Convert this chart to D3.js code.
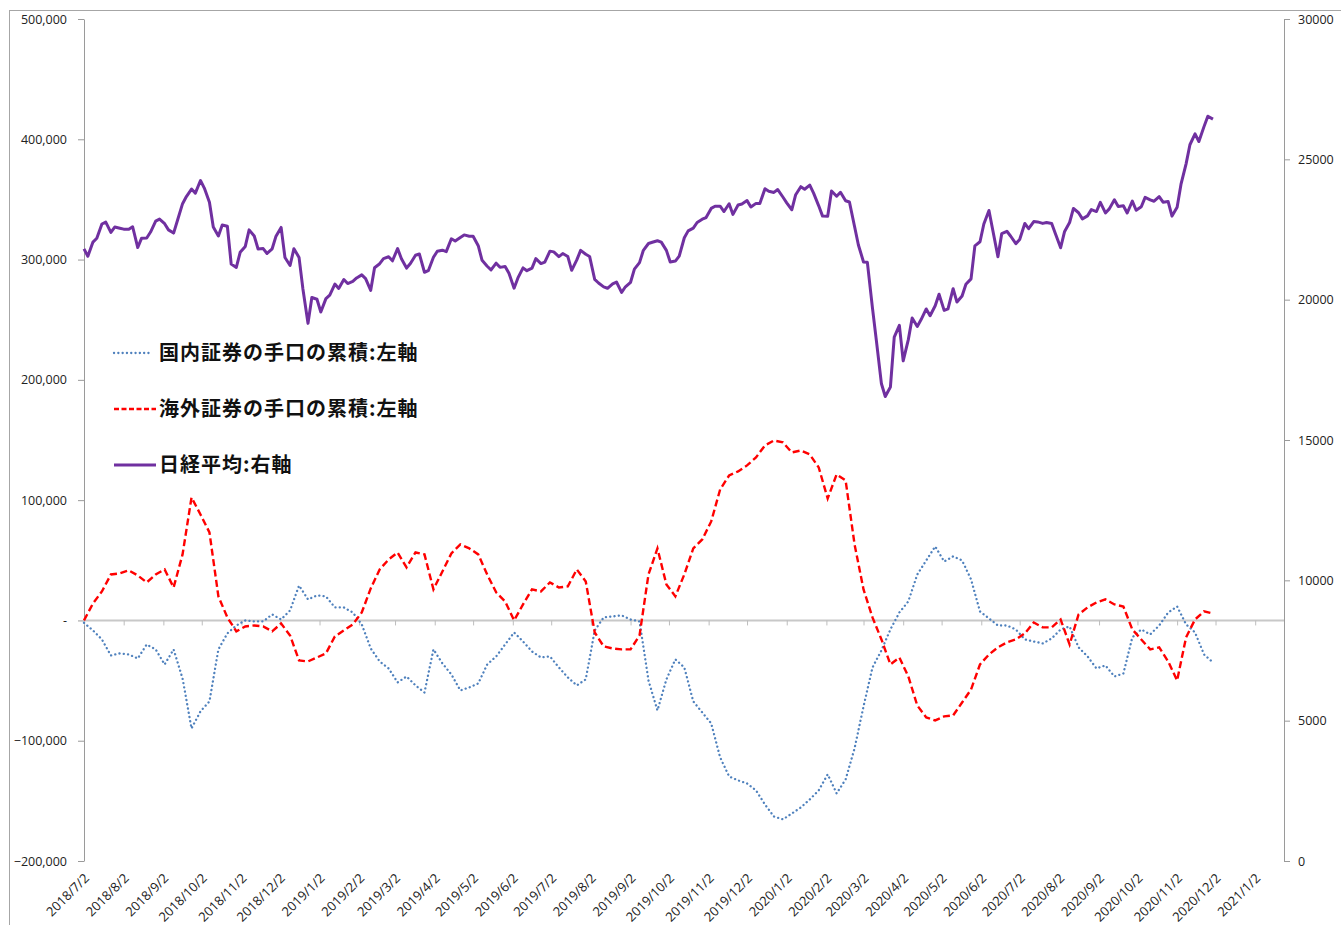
<!DOCTYPE html>
<html>
<head>
<meta charset="utf-8">
<script src="https://cdn.jsdelivr.net/npm/d3@7"></script>
<style>
body { margin: 0; background: #fff; }
svg { display: block; }
</style>
</head>
<body>
<svg id="chart" width="1341" height="925"></svg>
<script>
// 日経平均 (twice a week: Mon / Thu), 2018/7/2 - 2020/11/30
var nikkeiStart = new Date(2018, 6, 2);
var nikkei = [
  21811,21547, 22052,22187, 22697,22765, 22397,22586, 22544,22512,
  22507,22598, 21858,22192, 22199,22410, 22799,22869, 22707,22487,
  22373,22821, 23420,23674, 23940,23797, 24245,23975, 23469,22591,
  22271,22659, 22615,21268, 21149,21687, 21898,22487, 22270,21804,
  21821,21646, 21812,22262, 22574,21501, 21219,21816, 21506,20392,
  19155,20077, 20015,19561, 20038,20163, 20555,20402, 20719,20574,
  20649,20773, 20883,20751, 20333,21139, 21281,21464, 21528,21385,
  21822,21456, 21125,21287, 21584,21627, 20977,21033, 21509,21724,
  21762,21711, 22169,22091, 22218,22307, 22259,22259, 21923,21402,
  21191,21062, 21301,21151, 21183,20943, 20410,20774, 21134,21032,
  21124,21462, 21286,21338, 21729,21702, 21534,21643, 21535,21046,
  21416,21756, 21616,21540, 20720,20593, 20455,20406, 20563,20628,
  20261,20460, 20620,21086, 21318,21759, 22001,22044, 22098,22049,
  21756,21341, 21375,21551, 22207,22451, 22548,22750, 22867,22927,
  23251,23330, 23331,23141, 23416,23038, 23373,23409, 23529,23300,
  23430,23424, 23952,23864, 23821,23924, 23657,23450, 23204,23740,
  24025,23933, 24083,23795, 23343,22977, 22972,23873, 23686,23828,
  23523,23479, 22605,21948, 21344,21330, 19698,18560, 17002,16552,
  16887,18665, 19084,17819, 18576,19346, 19043,19290, 19669,19429,
  19783,20193, 19619,19674, 20390,19915, 20133,20552, 20741,21916,
  22062,22695, 23178,22473, 21530,22355, 22437,22259, 21995,22145,
  22714,22529, 22784,22770, 22717,22751, 22716,22339, 21850,22418,
  22750,23250, 23097,22880, 22985,23209, 23140,23465, 23089,23235,
  23559,23320, 23346,23087, 23511,23185, 23312,23647, 23558,23507,
  23671,23474, 23495,22977, 23295,24105, 24839,25520, 25906,25634,
  26165,26537, 26433
];

// 手口の累積 (weekly, Mondays from 2018/7/2)
var weeklyStart = new Date(2018, 6, 2);
var domestic = [
  -2000, -8300, -15800, -29100, -27400, -28300, -31600, -20000, -24100, -36600,
  -24100, -48200, -89800, -75600, -67300, -24100, -10800, -4200, 0, -800,
  -800, 5000, 800, 8300, 29000, 17500, 20800, 20000, 10800, 10800,
  6600, -3300, -23300, -34100, -39900, -51500, -46600, -54000, -59900, -24100,
  -35700, -44900, -58200, -55700, -52400, -36600, -29900, -20000, -10000, -17500,
  -25800, -30800, -29900, -39100, -47400, -54000, -49000, -8300, 2500, 3300,
  4200, 800, -800, -49900, -74800, -49000, -32400, -39100, -67300, -76500,
  -85600, -113900, -129700, -133000, -135500, -141300, -153000, -163000, -165400, -160500,
  -155500, -148800, -141300, -128000, -143800, -132200, -106400, -71500, -39100, -24900,
  -7500, 6600, 15800, 38200, 49900, 61500, 49000, 53200, 49900, 34100,
  7500, 1700, -4200, -4200, -7500, -15800, -17500, -19100, -15000, -7500,
  -5000, -22400, -29900, -39900, -37400, -46600, -44100, -14100, -7500, -11600,
  -4200, 6600, 11600, -3300, -10000, -28300, -34900
];
var foreign = [
  0, 14100, 24100, 38200, 39100, 41600, 37400, 31600, 38200, 42400,
  27400, 54900, 102200, 88100, 73200, 20000, 2500, -9100, -5000, -4200,
  -5000, -9100, -2500, -12500, -33300, -34100, -30800, -27400, -13300, -8300,
  -3300, 6600, 26600, 42400, 50700, 56500, 44100, 56500, 54900, 25800,
  40700, 55700, 63200, 59900, 54900, 38200, 23300, 15800, 0, 13300,
  25800, 24100, 31600, 27400, 28300, 42400, 32400, -10000, -21600, -23300,
  -24100, -24100, -12500, 38200, 59900, 29900, 20000, 38200, 59900, 67300,
  82300, 108900, 120500, 123900, 128900, 135500, 145500, 149600, 148000, 139700,
  141300, 138000, 127200, 101400, 121400, 116400, 63200, 25800, 2500, -15800,
  -36600, -30800, -46600, -70700, -80600, -83100, -79800, -79000, -68200, -57400,
  -36600, -28300, -22400, -18300, -15800, -10800, -1700, -5800, -5800, 800,
  -20000, 5000, 10800, 15000, 17500, 13300, 11600, -7500, -15800, -24100,
  -22400, -34100, -49900, -14100, 800, 7500, 5800
];

var leftTicks = [500000, 400000, 300000, 200000, 100000, 0, -100000, -200000];
var rightTicks = [30000, 25000, 20000, 15000, 10000, 5000, 0];
var legendNames = ["国内証券の手口の累積:左軸", "海外証券の手口の累積:左軸", "日経平均:右軸"];

(function() {
  var svg = d3.select("#chart");
  var plotLeft = 84, plotRight = 1284, plotTop = 19, plotBottom = 861;

  var nikkeiDates = nikkei.map(function(v, i) {
    return d3.timeDay.offset(nikkeiStart, Math.floor(i / 2) * 7 + (i % 2) * 3);
  });
  var weeklyDates = domestic.map(function(v, i) { return d3.timeDay.offset(weeklyStart, 7 * i); });
  var monthTicks = d3.timeMonth.range(new Date(2018, 6, 1), new Date(2021, 0, 2))
    .map(function(d) { return d3.timeDay.offset(d, 1); });

  var xScale = d3.scaleTime()
    .domain([new Date(2018, 6, 2), new Date(2021, 0, 24, 12)])
    .range([plotLeft, plotRight]);
  var yLeft = d3.scaleLinear().domain([-200000, 500000]).range([plotBottom, plotTop]);
  var yRight = d3.scaleLinear().domain([0, 30000]).range([plotBottom, plotTop]);

  // chart border
  svg.append("rect")
    .attr("x", 9.5).attr("y", 10.5)
    .attr("width", 1400).attr("height", 1000)
    .attr("fill", "none").attr("stroke", "#a6a6a6");

  var fmtLeft = function(d) { return d === 0 ? "-" : d3.format(",")(d); };

  var gL = svg.append("g")
    .attr("class", "leftAxis")
    .attr("transform", "translate(" + plotLeft + ",0)")
    .call(d3.axisLeft(yLeft).tickValues(leftTicks).tickSize(6).tickSizeOuter(0).tickPadding(11).tickFormat(fmtLeft));

  var gR = svg.append("g")
    .attr("transform", "translate(" + plotRight + ",0)")
    .call(d3.axisRight(yRight).tickValues(rightTicks).tickSize(6).tickSizeOuter(0).tickPadding(8).tickFormat(d3.format("d")));

  [gL, gR].forEach(function(g) {
    g.select(".domain").attr("stroke", "#9a9a9a");
    g.selectAll(".tick line").attr("stroke", "#9a9a9a");
    g.selectAll("text")
      .attr("font-family", "'Open Sans', sans-serif")
      .attr("font-size", "12.5px")
      .attr("fill", "#222");
  });

  // zero line with month ticks
  svg.append("line")
    .attr("x1", plotLeft).attr("x2", plotRight)
    .attr("y1", yLeft(0)).attr("y2", yLeft(0))
    .attr("stroke", "#c8c8c8").attr("stroke-width", 2);

  var gX = svg.append("g")
    .attr("transform", "translate(0," + yLeft(0) + ")")
    .call(d3.axisBottom(xScale).tickValues(monthTicks).tickSize(5).tickSizeOuter(0).tickFormat(""));
  gX.select(".domain").remove();
  gX.selectAll(".tick line").attr("stroke", "#bdbdbd");

  var fmtDate = d3.timeFormat("%Y/%-m/%-d");
  svg.append("g").selectAll("text")
    .data(monthTicks)
    .enter().append("text")
    .attr("transform", function(d) { return "translate(" + (xScale(d) + 6) + ",879) rotate(-45)"; })
    .attr("text-anchor", "end")
    .attr("font-family", "'Open Sans', sans-serif")
    .attr("font-size", "13px")
    .attr("fill", "#222")
    .text(fmtDate);

  // series
  var lineW = d3.line()
    .x(function(d) { return xScale(d[0]); })
    .y(function(d) { return yLeft(d[1]); });
  var lineN = d3.line()
    .x(function(d) { return xScale(d[0]); })
    .y(function(d) { return yRight(d[1]); });

  svg.append("path")
    .attr("d", lineW(d3.zip(weeklyDates, domestic)))
    .attr("fill", "none")
    .attr("stroke", "#4f81bd")
    .attr("stroke-width", 2.3)
    .attr("stroke-linecap", "round")
    .attr("stroke-dasharray", "0.1 4.2");

  svg.append("path")
    .attr("d", lineW(d3.zip(weeklyDates, foreign)))
    .attr("fill", "none")
    .attr("stroke", "#ff0000")
    .attr("stroke-width", 2.4)
    .attr("stroke-dasharray", "7 3.5");

  svg.append("path")
    .attr("d", lineN(d3.zip(nikkeiDates, nikkei)))
    .attr("fill", "none")
    .attr("stroke", "#7030a0")
    .attr("stroke-width", 3)
    .attr("stroke-linejoin", "round");

  // legend
  var legendStyles = [
    { color: "#4f81bd", dash: "0.1 4.2", cap: "round", w: 2.3, x2: 152 },
    { color: "#ff0000", dash: "5 2.5", cap: "butt", w: 2.4, x2: 156 },
    { color: "#7030a0", dash: null, cap: "butt", w: 3, x2: 156 }
  ];
  var legend = svg.append("g");
  legendNames.forEach(function(name, i) {
    var y = 353 + i * 56;
    var s = legendStyles[i];
    legend.append("line")
      .attr("x1", 114).attr("x2", s.x2)
      .attr("y1", y).attr("y2", y)
      .attr("stroke", s.color)
      .attr("stroke-width", s.w)
      .attr("stroke-linecap", s.cap)
      .attr("stroke-dasharray", s.dash);
    legend.append("text")
      .attr("x", 159).attr("y", y + 7)
      .attr("font-family", "'Noto Sans CJK JP', sans-serif")
      .attr("font-weight", "bold")
      .attr("font-size", "20px")
      .attr("letter-spacing", "1px")
      .attr("fill", "#111")
      .text(name);
  });
})();
</script>
</body>
</html>
